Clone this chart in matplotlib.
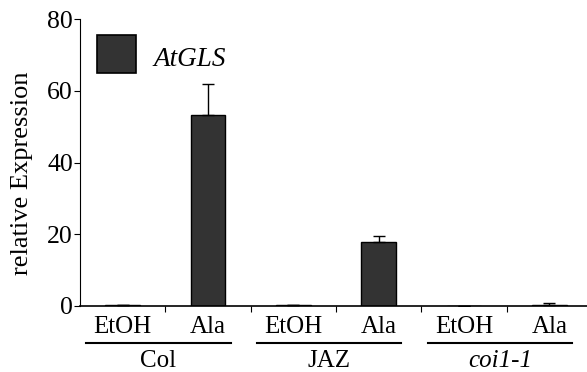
import numpy as np
import matplotlib.pyplot as plt
from matplotlib.patches import Rectangle

plt.rcParams['font.family'] = ['Liberation Serif', 'DejaVu Serif']

# expression data
treatments = ['EtOH', 'Ala', 'EtOH', 'Ala', 'EtOH', 'Ala']
genotypes = ['Col', 'JAZ', 'coi1-1']
expression = [0.3, 53.2, 0.3, 17.8, 0.05, 0.4]
err_upper = [0.0, 8.7, 0.0, 1.7, 0.0, 0.4]
gene = 'AtGLS'

fig = plt.figure(figsize=(5.87, 3.72), dpi=100)
ax = fig.add_axes([80/587, 66/372, 512/587, 287/372])

x = np.arange(len(expression))
ax.bar(x, expression, width=0.41, color='#333333', edgecolor='black', linewidth=1.0)
ax.errorbar(x, expression, yerr=[np.zeros(len(err_upper)), err_upper], fmt='none',
            ecolor='black', elinewidth=1.0, capsize=4, capthick=1.0)

ax.set_xlim(-0.5, len(expression) - 0.5)
ax.set_ylim(0, 80)
ax.set_yticks([0, 20, 40, 60, 80])
ax.tick_params(axis='y', labelsize=18.5, direction='out', length=4, width=0.8, pad=1)
ax.set_xticks(np.arange(0.5, len(expression) - 0.5, 1.0))
ax.set_xticklabels([])
ax.tick_params(axis='x', direction='out', length=4, width=0.8)
for side in ['top', 'right']:
    ax.spines[side].set_visible(False)
ax.spines['left'].set_linewidth(0.8)
ax.spines['bottom'].set_linewidth(1.2)

ax.set_ylabel('relative Expression', fontsize=19)
ax.yaxis.set_label_coords(-0.091, 0.462)

# treatment labels and genotype groups below the axis
trans = ax.get_xaxis_transform()
for xi, lab in zip(x, treatments):
    ax.text(xi, -0.072, lab, transform=trans, ha='center', va='center', fontsize=18)
for i, g in enumerate(genotypes):
    c = 2 * i + 0.5 - 0.08
    ax.plot([c - 0.845, c + 0.845], [-0.13, -0.13], transform=trans, color='black',
            linewidth=1.5, clip_on=False)
    ax.text(c, -0.192, g, transform=trans, ha='center', va='center', fontsize=18,
            style='italic' if g == 'coi1-1' else 'normal')

# legend box
fig.patches.append(Rectangle((97/587, 1 - 73/372), 39/587, 38/372, transform=fig.transFigure,
                             facecolor='#333333', edgecolor='black', linewidth=1.2))
fig.text(153/587, 1 - 59/372, gene, style='italic', fontsize=19.5, va='center', ha='left')

fig.savefig('out.png', dpi=100)
